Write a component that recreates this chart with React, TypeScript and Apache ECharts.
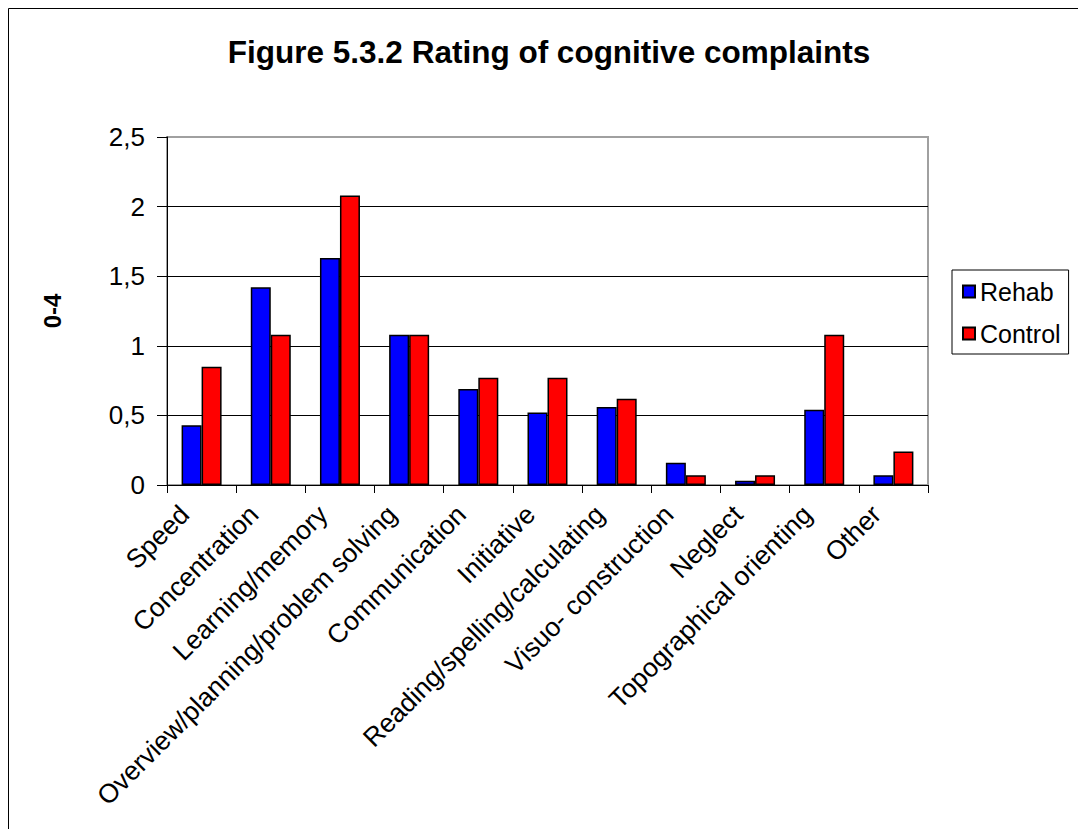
import React, { useEffect, useRef } from "react";
import * as echarts from "echarts";

const categories = [
  "Speed",
  "Concentration",
  "Learning/memory",
  "Overview/planning/problem solving",
  "Communication",
  "Initiative",
  "Reading/spelling/calculating",
  "Visuo- construction",
  "Neglect",
  "Topographical orienting",
  "Other",
];
const rehab = [0.43, 1.42, 1.63, 1.08, 0.69, 0.52, 0.56, 0.16, 0.03, 0.54, 0.07];
const control = [0.85, 1.08, 2.08, 1.08, 0.77, 0.77, 0.62, 0.07, 0.07, 1.08, 0.24];
const titleText = "Figure 5.3.2 Rating of cognitive complaints";
const yAxisName = "0-4";

const FONT = "'Liberation Sans', Arial, sans-serif";

export default function App() {
  const ref = useRef<HTMLDivElement>(null);
  useEffect(() => {
    if (!ref.current) return;
    const chart = echarts.init(ref.current, undefined, { renderer: "svg" });
    chart.setOption({
      animation: false,
      backgroundColor: "#ffffff",
      textStyle: { fontFamily: FONT, color: "#000" },
      title: {
        text: titleText,
        left: 549,
        top: 36,
        textAlign: "center",
        padding: 0,
        textStyle: { fontSize: 31.5, fontWeight: "bold", color: "#000", fontFamily: FONT },
      },
      graphic: [
        {
          type: "rect",
          shape: { x: 8.5, y: 8.5, width: 1200, height: 1000 },
          style: { fill: "none", stroke: "#000", lineWidth: 1 },
          silent: true,
        },
      ],
      legend: {
        orient: "vertical",
        left: 952,
        top: 270,
        padding: [9, 8, 8, 10],
        itemWidth: 12,
        itemHeight: 12,
        itemGap: 17,
        itemTextGap: 15,
        icon: "rect",
        borderColor: "#000",
        borderWidth: 1,
        textStyle: { fontSize: 25, color: "#000", fontFamily: FONT },
        data: ["Rehab", "Control"],
      },
      grid: {
        left: 167,
        right: 150,
        top: 137,
        bottom: 344,
        show: true,
        borderColor: "#a0a0a0",
        borderWidth: 2,
        backgroundColor: "transparent",
      },
      xAxis: {
        type: "category",
        data: categories,
        axisLine: { show: true, lineStyle: { color: "#000", width: 1 } },
        axisTick: { show: true, length: 8, interval: 0, lineStyle: { color: "#000" } },
        axisLabel: {
          interval: 0,
          rotate: 45,
          margin: 8,
          padding: [0, 24, 0, 0],
          fontSize: 26.5,
          color: "#000",
          fontFamily: FONT,
        },
      },
      yAxis: {
        type: "value",
        min: 0,
        max: 2.5,
        interval: 0.5,
        name: yAxisName,
        nameLocation: "middle",
        nameRotate: 90,
        nameGap: 103,
        nameTextStyle: { fontSize: 24, fontWeight: "bold", color: "#000", fontFamily: FONT },
        axisLine: { show: true, lineStyle: { color: "#000", width: 1 } },
        axisTick: { show: true, length: 10, lineStyle: { color: "#000" } },
        axisLabel: {
          margin: 22,
          fontSize: 26,
          color: "#000",
          fontFamily: FONT,
          formatter: (v: number) => String(v).replace(".", ","),
        },
        splitLine: {
          show: true,
          lineStyle: {
            color: ["#000", "#000", "#000", "#000", "#000", "#a0a0a0"],
            width: 1,
          },
        },
      },
      series: [
        {
          name: "Rehab",
          type: "bar",
          data: rehab,
          barWidth: 20,
          barGap: "0%",
          itemStyle: { color: "#0000ff", borderColor: "#000", borderWidth: 1.5 },
        },
        {
          name: "Control",
          type: "bar",
          data: control,
          barWidth: 20,
          barGap: "0%",
          itemStyle: { color: "#ff0000", borderColor: "#000", borderWidth: 1.5 },
        },
      ],
    });
    return () => chart.dispose();
  }, []);
  return (
    <div
      ref={ref}
      style={{ position: "absolute", left: 0, top: 0, width: 1078, height: 829 }}
    />
  );
}
